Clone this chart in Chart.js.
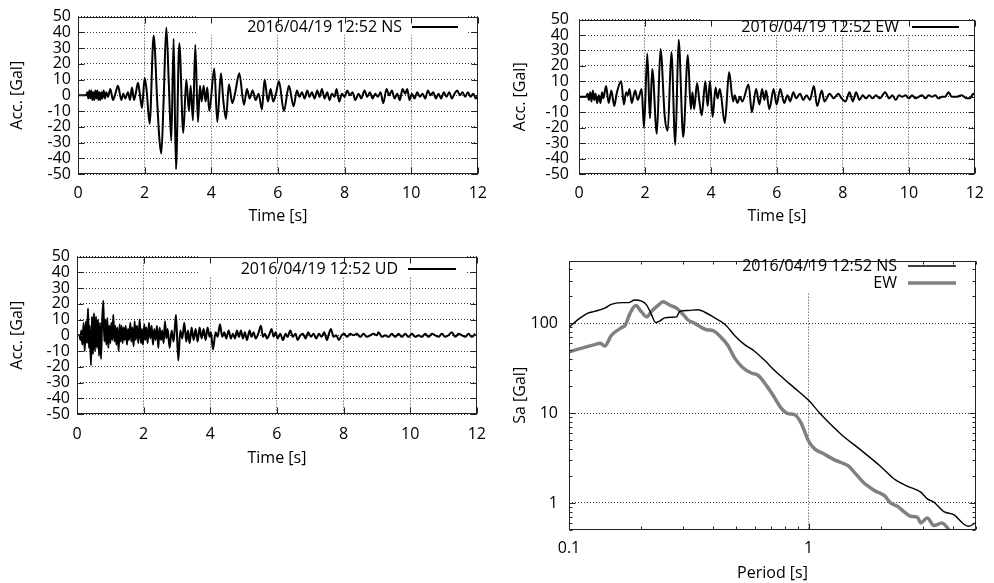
<!DOCTYPE html>
<html>
<head>
<meta charset="utf-8">
<script src="https://cdn.jsdelivr.net/npm/chart.js@4.4.0/dist/chart.umd.min.js"></script>
<style>
  body { margin: 0; background: #fff; width: 994px; height: 583px; position: relative; overflow: hidden; }
  canvas { position: absolute; }
</style>
</head>
<body>
<canvas id="ns" width="497" height="230" style="left:0;top:0"></canvas>
<canvas id="ew" width="497" height="230" style="left:497px;top:0"></canvas>
<canvas id="ud" width="497" height="240" style="left:0;top:240px"></canvas>
<canvas id="sa" width="497" height="343" style="left:497px;top:240px"></canvas>
<script>
// tick values
const timeTicks = [0, 2, 4, 6, 8, 10, 12];
const accTicks = [-50, -40, -30, -20, -10, 0, 10, 20, 30, 40, 50];
const periodTicks = [0.1, 0.2, 0.3, 0.4, 0.5, 0.6, 0.7, 0.8, 0.9, 1, 2, 3, 4, 5];
const periodLabels = [0.1, 1];
const saTicks = [0.5, 0.6, 0.7, 0.8, 0.9, 1, 2, 3, 4, 5, 6, 7, 8, 9, 10, 20, 30, 40, 50, 60, 70, 80, 90, 100, 200, 300, 400, 500];
const saLabels = [1, 10, 100];

// NS record (turning points)
const nsTime = [0, 0.25, 0.28, 0.31, 0.34, 0.37, 0.40, 0.43, 0.46, 0.49, 0.52, 0.55, 0.58, 0.61, 0.64, 0.67, 0.70, 0.73, 0.77, 0.81,
  0.85, 0.90, 0.97, 1.05, 1.12, 1.20, 1.30, 1.36, 1.42, 1.50, 1.56, 1.62, 1.68, 1.74, 1.80, 1.86, 1.92, 2.00, 2.06, 2.15,
  2.27, 2.38, 2.44, 2.50, 2.57, 2.65, 2.73, 2.80, 2.87, 2.94, 3.04, 3.16, 3.25, 3.33, 3.38, 3.45, 3.52, 3.60, 3.66, 3.71,
  3.77, 3.83, 3.88, 3.94, 4.09, 4.18, 4.29, 4.36, 4.44, 4.53, 4.63, 4.72, 4.84, 4.98, 5.07, 5.15, 5.24, 5.33, 5.42, 5.52,
  5.60, 5.70, 5.78, 5.86, 5.95, 6.03, 6.18, 6.33, 6.47, 6.57, 6.65, 6.72, 6.80, 6.88, 6.95, 7.02, 7.10, 7.18, 7.25, 7.32,
  7.40, 7.48, 7.55, 7.62, 7.70, 7.76, 7.84, 7.92, 8.00, 8.08, 8.16, 8.24, 8.32, 8.42, 8.50, 8.60, 8.68, 8.76, 8.84, 8.92,
  9.00, 9.08, 9.16, 9.26, 9.34, 9.42, 9.50, 9.58, 9.66, 9.74, 9.82, 9.88, 9.95, 10.02, 10.10, 10.18, 10.26, 10.34, 10.42, 10.50,
  10.58, 10.66, 10.74, 10.82, 10.90, 10.98, 11.06, 11.14, 11.22, 11.30, 11.38, 11.46, 11.54, 11.62, 11.70, 11.78, 11.86, 11.94, 12];
const nsAcc = [0, 0, 2, -2, 3, -2, 3, -3, 2, -3, 3, -2, 3, -3, 2, -3, 2, -2, 3, -2,
  2, -1, 4, -3, 1, 6, -3, 1, -2, 2, -3, 5, -3, 2, 8, 0, -8, 11, 3, -18,
  38, -5, -27, -37, -3, 43, 5, -29, 36, -47, 33, -24, 10, -10, 6, -16, 32, -17, 6, -4,
  6, -4, 5, -10, 17, -17, 14, -3, -15, 7, -5, 2, 14, -6, 4, -2, 3, -3, 1, -9,
  10, -4, 4, -4, 2, 9, -10, 6, -7, 3, -1, 2, -2, 3, -1, 2, -2, 3, -1, 4,
  -2, 2, -3, 1, -1, 4, -4, 1, -1, 3, 0, 2, -3, 1, -2, 3, -1, 2, -2, 1,
  -1, 2, -5, 4, 0, 3, -2, 1, -3, 4, 1, 4, -3, 1, -2, 2, -1, 1, -2, 3,
  0, 2, -2, 1, -2, 2, -1, 2, -2, 1, 3, 0, 2, -1, 2, -1, 1, -2, 0];

// EW record
const ewTime = [0, 0.22, 0.26, 0.30, 0.34, 0.38, 0.42, 0.46, 0.50, 0.55, 0.60, 0.65, 0.70, 0.74, 0.82, 0.90, 0.98, 1.07, 1.14, 1.28,
  1.36, 1.43, 1.48, 1.53, 1.60, 1.70, 1.78, 1.90, 1.97, 2.07, 2.15, 2.22, 2.36, 2.47, 2.60, 2.69, 2.80, 2.92, 3.02, 3.16,
  3.30, 3.39, 3.44, 3.49, 3.58, 3.65, 3.72, 3.83, 3.90, 3.97, 4.05, 4.14, 4.20, 4.27, 4.42, 4.55, 4.67, 4.72, 4.80, 4.88,
  4.95, 5.14, 5.24, 5.37, 5.47, 5.55, 5.62, 5.67, 5.77, 5.90, 5.99, 6.10, 6.22, 6.32, 6.40, 6.50, 6.58, 6.70, 6.80, 6.90,
  7.00, 7.12, 7.22, 7.36, 7.44, 7.60, 7.72, 7.86, 7.96, 8.08, 8.20, 8.30, 8.40, 8.50, 8.60, 8.70, 8.80, 8.90, 9.00, 9.12,
  9.28, 9.40, 9.50, 9.60, 9.70, 9.80, 9.90, 10.00, 10.10, 10.20, 10.30, 10.40, 10.50, 10.60, 10.70, 10.80, 10.90, 11.00, 11.10, 11.20,
  11.30, 11.45, 11.60, 11.75, 11.85, 11.95, 12];
const ewAcc = [0, 0, 2, -2, 3, -3, 4, -2, 2, -4, 1, -4, 3, -1, 7, -4, 4, -6, 2, 10,
  -5, 3, 1, 5, -4, 4, -2, 5, -20, 28, -14, 18, -24, 31, -13, -22, 29, -31, 37, -26,
  27, -8, 3, -8, 9, -3, -12, 10, -6, 10, -13, 6, -1, 5, -17, 16, -3, 1, -4, 0,
  -3, 8, -10, 5, -5, 5, -2, 4, -8, 5, -5, 5, -4, 1, -3, 3, -1, 2, -2, 1,
  -2, 7, -6, 4, -3, 2, -1, 2, -1, -3, 3, -3, 3, -2, 1, -1, 1, -1, 1, -1,
  3, -1, 1, -2, 1, 0, 1, -1, 1, -1, 0, 1, -1, 1, 0, 1, -1, 0, 0, 3,
  0, 0, 1, -1, -1, 2, 1];

// UD record
const udTime = [0, 0.08, 0.10, 0.13, 0.16, 0.20, 0.23, 0.27, 0.30, 0.33, 0.36, 0.38, 0.42, 0.45, 0.48, 0.51, 0.54, 0.57, 0.60, 0.63,
  0.66, 0.69, 0.72, 0.75, 0.79, 0.82, 0.85, 0.88, 0.91, 0.94, 0.97, 1.00, 1.03, 1.06, 1.09, 1.12, 1.15, 1.18, 1.21, 1.25,
  1.28, 1.31, 1.34, 1.37, 1.40, 1.43, 1.46, 1.50, 1.53, 1.56, 1.60, 1.63, 1.66, 1.70, 1.73, 1.76, 1.80, 1.84, 1.88, 1.92,
  1.95, 1.98, 2.02, 2.05, 2.08, 2.12, 2.16, 2.20, 2.24, 2.28, 2.32, 2.36, 2.40, 2.44, 2.48, 2.52, 2.56, 2.60, 2.64, 2.68,
  2.72, 2.78, 2.84, 2.90, 2.97, 3.04, 3.10, 3.16, 3.22, 3.28, 3.33, 3.38, 3.44, 3.50, 3.56, 3.62, 3.68, 3.74, 3.80, 3.86,
  3.92, 3.98, 4.02, 4.08, 4.16, 4.22, 4.29, 4.36, 4.42, 4.48, 4.55, 4.62, 4.68, 4.74, 4.80, 4.86, 4.92, 4.98, 5.04, 5.10,
  5.18, 5.24, 5.30, 5.36, 5.44, 5.52, 5.58, 5.64, 5.70, 5.78, 5.84, 5.90, 5.96, 6.02, 6.10, 6.18, 6.26, 6.32, 6.40, 6.48,
  6.56, 6.62, 6.70, 6.78, 6.86, 6.94, 7.02, 7.10, 7.18, 7.26, 7.34, 7.42, 7.50, 7.56, 7.62, 7.70, 7.78, 7.86, 7.94, 8.02,
  8.10, 8.20, 8.30, 8.40, 8.50, 8.60, 8.70, 8.80, 8.90, 9.00, 9.05, 9.15, 9.25, 9.35, 9.45, 9.55, 9.65, 9.75, 9.85, 9.95,
  10.05, 10.15, 10.25, 10.35, 10.45, 10.55, 10.65, 10.75, 10.85, 10.95, 11.05, 11.15, 11.25, 11.35, 11.45, 11.55, 11.65, 11.75, 11.85, 11.95];
const udAcc = [0, 0, -3, 3, -6, 8, -10, 9, -5, 17, -8, 6, -19, 12, -12, 14, -10, 12, -8, 10,
  -13, 8, -15, 6, 22, -4, 10, -6, 11, -8, 6, -5, 8, -3, 13, -4, 6, -6, 5, -10,
  7, -4, 6, -5, 5, -3, 6, -6, 4, -3, 8, -4, 5, -7, 9, -3, 6, -5, 10, -5,
  4, -6, 7, -3, 5, -5, 8, -2, 6, -6, 4, -3, 6, -8, 5, -3, 3, -5, 9, -2,
  4, -8, 3, -4, 13, -16, 3, -2, 8, -4, 3, -5, 5, -3, 4, -4, 5, -2, 4, -3,
  5, -1, 2, -9, 2, -1, 7, -1, 2, -2, 3, -2, 1, -2, 3, -1, 3, -2, 2, -3,
  3, -1, 2, -2, 1, 6, -1, 1, -2, 1, 4, -1, 2, -2, 1, -3, 1, -1, 3, -1,
  1, -3, 0, 1, -2, 2, -1, 1, -2, 1, -1, 2, -3, 1, 4, -1, 0, -3, 0, 1,
  -1, 1, 0, 1, -1, 1, -1, 0, 1, 0, 2, -1, 0, -1, 1, -1, 1, -1, 1, -1,
  1, -1, 0, -1, 1, -1, 1, 0, -1, 1, -1, 0, 2, -1, 1, 0, -1, 1, -1, 1];

// acceleration response spectra
const nsPeriod = [0.1, 0.109, 0.12, 0.128, 0.141, 0.15, 0.166, 0.177, 0.188, 0.2, 0.211, 0.221, 0.23, 0.239, 0.251, 0.268, 0.281, 0.29, 0.314, 0.346,
  0.369, 0.406, 0.447, 0.492, 0.541, 0.595, 0.654, 0.72, 0.79, 0.875, 1.0, 1.13, 1.37, 1.65, 2.0, 2.27, 2.58, 2.94, 3.13, 3.34,
  3.67, 4.04, 4.45, 4.67, 4.97];
const nsSa = [90, 110, 130, 136, 148, 163, 170, 170, 182, 178, 160, 125, 102, 106, 115, 117, 118, 136, 139, 142,
  133, 115, 98, 73, 58, 49, 39, 30, 24, 19, 13.9, 9.6, 5.8, 3.9, 2.55, 1.86, 1.54, 1.32, 1.11, 1.02,
  0.80, 0.74, 0.58, 0.55, 0.60];
const ewPeriod = [0.1, 0.113, 0.128, 0.135, 0.141, 0.15, 0.166, 0.171, 0.18, 0.19, 0.2, 0.211, 0.221, 0.236, 0.247, 0.263, 0.281, 0.3, 0.314, 0.335,
  0.357, 0.375, 0.399, 0.425, 0.46, 0.492, 0.532, 0.577, 0.614, 0.67, 0.72, 0.77, 0.82, 0.875, 0.93, 1.0, 1.06, 1.14, 1.29, 1.46,
  1.54, 1.7, 1.89, 2.08, 2.2, 2.36, 2.5, 2.67, 2.85, 2.94, 3.13, 3.34, 3.6, 3.97];
const ewSa = [48, 53, 58, 60, 56, 73, 90, 94, 130, 158, 136, 118, 136, 160, 174, 160, 148, 125, 109, 100,
  90, 85, 83, 73, 57, 41, 32, 28, 26.5, 20, 15, 11.3, 9.9, 9.6, 7.8, 4.9, 4.0, 3.6, 3.0, 2.6,
  2.25, 1.68, 1.37, 1.2, 1.0, 0.91, 0.80, 0.71, 0.69, 0.60, 0.68, 0.56, 0.60, 0.45];

const FONT = {family: '"Open Sans", sans-serif', size: 16};
Chart.defaults.font.family = FONT.family;
Chart.defaults.font.size = FONT.size;
Chart.defaults.color = '#000';

const pts = (xs, ys) => xs.map((x, i) => ({x: x, y: ys[i]}));
const GRID = '#3a3a3a';

// gnuplot look: opaque key box, full frame with inward ticks, key text + sample line
const gnuLook = {
  id: 'gnu',
  beforeDatasetsDraw(chart, args, o) {
    const ctx = chart.ctx;
    ctx.save();
    ctx.fillStyle = '#fff';
    ctx.fillRect(o.box[0], o.box[1], o.box[2], o.box[3]);
    ctx.restore();
  },
  afterDatasetsDraw(chart, args, o) {
    const {ctx, chartArea: a, scales} = chart;
    const L = Math.round(a.left) + 0.5, T = Math.round(a.top) + 0.5;
    const R = Math.round(a.right) - 0.5, B = Math.round(a.bottom) - 0.5;
    ctx.save();
    ctx.strokeStyle = '#222';
    ctx.lineWidth = 1;
    ctx.beginPath();
    scales.x.ticks.forEach(t => {
      const len = (!o.majorX || o.majorX.includes(t.value)) ? 6 : 3;
      const p = Math.round(scales.x.getPixelForValue(t.value)) + 0.5;
      ctx.moveTo(p, B); ctx.lineTo(p, B - len);
      ctx.moveTo(p, T); ctx.lineTo(p, T + len);
    });
    scales.y.ticks.forEach(t => {
      const len = (!o.majorY || o.majorY.includes(t.value)) ? 6 : 3;
      const p = Math.round(scales.y.getPixelForValue(t.value)) + 0.5;
      ctx.moveTo(L, p); ctx.lineTo(L + len, p);
      ctx.moveTo(R, p); ctx.lineTo(R - len, p);
    });
    ctx.stroke();
    ctx.strokeRect(L, T, R - L, B - T);

    ctx.font = '16px "Open Sans", sans-serif';
    ctx.fillStyle = '#000';
    ctx.textAlign = 'right';
    ctx.textBaseline = 'middle';
    o.items.forEach(it => {
      ctx.fillText(it.text, it.tx, it.y);
      ctx.strokeStyle = it.color;
      ctx.lineWidth = it.width;
      ctx.beginPath();
      ctx.moveTo(it.x1, it.y);
      ctx.lineTo(it.x2, it.y);
      ctx.stroke();
    });
    ctx.restore();
  }
};
Chart.register(gnuLook);

function accChart(id, time, acc, name, lay) {
  return new Chart(document.getElementById(id), {
    type: 'line',
    data: {
      datasets: [{
        label: name,
        data: pts(time, acc),
        borderColor: '#000',
        borderWidth: 2,
        pointRadius: 0,
        cubicInterpolationMode: 'monotone',
        fill: false,
      }],
    },
    options: {
      responsive: false,
      animation: false,
      events: [],
      layout: {padding: {top: lay.top, right: lay.right, left: 0, bottom: 0}},
      scales: {
        x: {
          type: 'linear', min: 0, max: 12,
          afterBuildTicks: s => { s.ticks = timeTicks.map(v => ({value: v})); },
          afterFit: s => { s.height = lay.xh; },
          grid: {color: GRID, lineWidth: 1, drawTicks: false},
          border: {display: false, dash: [1, 2]},
          ticks: {font: FONT, padding: lay.xpad, maxRotation: 0, autoSkip: false},
          title: {display: true, text: 'Time [s]', font: FONT, padding: {top: 0, bottom: lay.xtp}},
        },
        y: {
          type: 'linear', min: -50, max: 50,
          afterBuildTicks: s => { s.ticks = accTicks.map(v => ({value: v})); },
          afterFit: s => { s.width = lay.left; },
          grid: {color: GRID, lineWidth: 1, drawTicks: false},
          border: {display: false, dash: [1, 2]},
          ticks: {font: FONT, padding: lay.ypad, autoSkip: false},
          title: {display: true, text: 'Acc. [Gal]', font: FONT, padding: {top: lay.ytp, bottom: 0}},
        },
      },
      plugins: {
        legend: {display: false},
        tooltip: {enabled: false},
        gnu: {
          box: lay.box,
          items: [{text: name, tx: lay.key[0], y: lay.key[1], x1: lay.key[2], x2: lay.key[3], color: '#000', width: 2}],
        },
      },
    },
  });
}

accChart('ns', nsTime, nsAcc, '2016/04/19 12:52 NS',
  {top: 14, right: 17, left: 78, xh: 56, xpad: 10, xtp: 4.4, ypad: 7, ytp: 7.4, box: [198, 13, 270, 22], key: [402, 27, 412, 458]});
accChart('ew', ewTime, ewAcc, '2016/04/19 12:52 EW',
  {top: 14, right: 15, left: 82, xh: 56, xpad: 10, xtp: 3.7, ypad: 10, ytp: 13.4, box: [203, 13, 268, 22], key: [402, 27, 415, 462]});
accChart('ud', udTime, udAcc, '2016/04/19 12:52 UD',
  {top: 15, right: 20, left: 77, xh: 66, xpad: 11, xtp: 12.4, ypad: 7, ytp: 7.4, box: [198, 15, 267, 22], key: [398, 29, 408, 456]});

new Chart(document.getElementById('sa'), {
  type: 'line',
  data: {
    datasets: [
      {label: 'NS', data: pts(nsPeriod, nsSa), borderColor: '#000', borderWidth: 1.4, pointRadius: 0, cubicInterpolationMode: 'monotone', fill: false},
      {label: 'EW', data: pts(ewPeriod, ewSa), borderColor: '#808080', borderWidth: 3.5, pointRadius: 0, cubicInterpolationMode: 'monotone', fill: false},
    ],
  },
  options: {
    responsive: false,
    animation: false,
    events: [],
    layout: {padding: {top: 13, right: 18, left: 0, bottom: 0}},
    scales: {
      x: {
        type: 'logarithmic', min: 0.1, max: 5,
        afterBuildTicks: s => { s.ticks = periodTicks.map(v => ({value: v})); },
        afterFit: s => { s.height = 53; },
        grid: {color: c => (c.tick && c.tick.value === 1) ? GRID : 'rgba(0,0,0,0)', lineWidth: 1, drawTicks: false},
        border: {display: false, dash: [1, 2]},
        ticks: {font: FONT, padding: 9, maxRotation: 0, autoSkip: false, callback: v => periodLabels.includes(v) ? String(v) : ''},
        title: {display: true, text: 'Period [s]', font: FONT, padding: {top: 0, bottom: 0.4}},
      },
      y: {
        type: 'logarithmic', min: 0.5, max: 500,
        afterBuildTicks: s => { s.ticks = saTicks.map(v => ({value: v})); },
        afterFit: s => { s.width = 72; },
        grid: {color: c => (c.tick && saLabels.includes(c.tick.value)) ? GRID : 'rgba(0,0,0,0)', lineWidth: 1, drawTicks: false},
        border: {display: false, dash: [1, 2]},
        ticks: {font: FONT, padding: 11, autoSkip: false, callback: v => saLabels.includes(v) ? String(v) : ''},
        title: {display: true, text: 'Sa [Gal]', font: FONT, padding: {top: 13.4, bottom: 0}},
      },
    },
    plugins: {
      legend: {display: false},
      tooltip: {enabled: false},
      gnu: {
        box: [240, 13, 232, 40],
        majorX: periodLabels,
        majorY: saLabels,
        items: [
          {text: '2016/04/19 12:52 NS', tx: 400, y: 26, x1: 411, x2: 459, color: '#000', width: 1.5},
          {text: 'EW', tx: 400, y: 43, x1: 411, x2: 459, color: '#808080', width: 3.5},
        ],
      },
    },
  },
});
</script>
</body>
</html>
